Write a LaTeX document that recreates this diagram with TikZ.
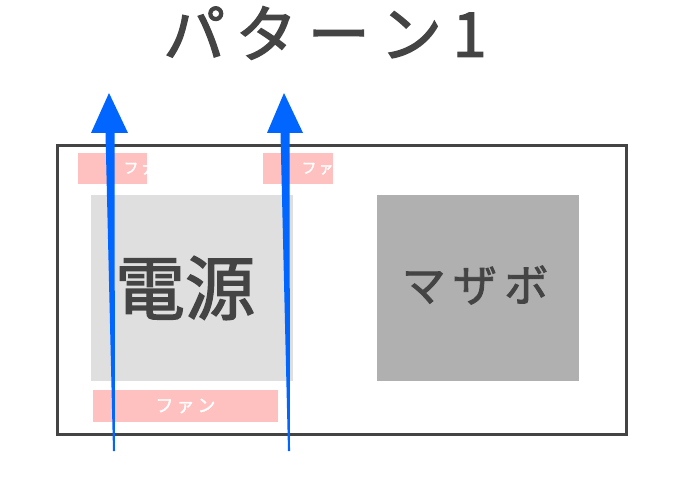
\documentclass[tikz,border=0pt]{standalone}
\usepackage{fontspec}
\newfontfamily\jpfont[FakeBold=2]{Noto Sans CJK JP}
\definecolor{boxline}{HTML}{444444}
\definecolor{psu}{HTML}{DFDFDF}
\definecolor{mobo}{HTML}{B0B0B0}
\definecolor{fanpink}{HTML}{FFC0C0}
\definecolor{flow}{HTML}{0066FF}
\tikzset{
  case/.style={draw=boxline, line width=3pt},
  part/.style={inner sep=0pt, text=boxline},
  fan/.style={fill=fanpink},
  fanlabel/.style={text=white, font=\jpfont\fontsize{18}{18}\selectfont},
  smallfan/.style={text=white, font=\jpfont\fontsize{15}{15}\selectfont, anchor=west},
}
\begin{document}
\begin{tikzpicture}[x=1pt,y=-1pt]
\useasboundingbox (0,0) rectangle (700,494);
\node[part, font=\jpfont\fontsize{62}{62}\selectfont] (title) at (325,33){パ\,タ\,ー\,ン\,1};
\draw[case] (57,146) rectangle (626,434);
\fill[psu] (91,195) rectangle (293,381);
\node[part, font=\jpfont\fontsize{70}{70}\selectfont] (psu) at (185,288){電源};
\fill[mobo] (377,195) rectangle (579,381);
\node[part, font=\jpfont\fontsize{44}{44}\selectfont] (mobo) at (475,285){マ\,ザ\,ボ};
\fill[fan] (78,153) rectangle (147,184);
\begin{scope}
\clip (78,153) rectangle (147,184);
\node[smallfan] (fan1) at (120,168.5){フ\kern2pt ァ\kern2pt ン};
\end{scope}
\fill[fan] (263,153) rectangle (333,184);
\begin{scope}
\clip (263,153) rectangle (333,184);
\node[smallfan] (fan2) at (298,168.5){フ\kern2pt ァ\kern2pt ン};
\end{scope}
\fill[fan] (93,390) rectangle (278,422);
\node[fanlabel] (fan3) at (185.5,406){フ\,ァ\,ン};
% airflow
\fill[flow] (113,451) -- (115,451) -- (114.5,133) -- (105.5,133) -- cycle;
\fill[flow] (109,93) -- (128,133) -- (91,133) -- cycle;
\fill[flow] (288,451) -- (290,451) -- (289.5,133) -- (280.5,133) -- cycle;
\fill[flow] (284,93) -- (303,133) -- (267,133) -- cycle;
\end{tikzpicture}
\end{document}
